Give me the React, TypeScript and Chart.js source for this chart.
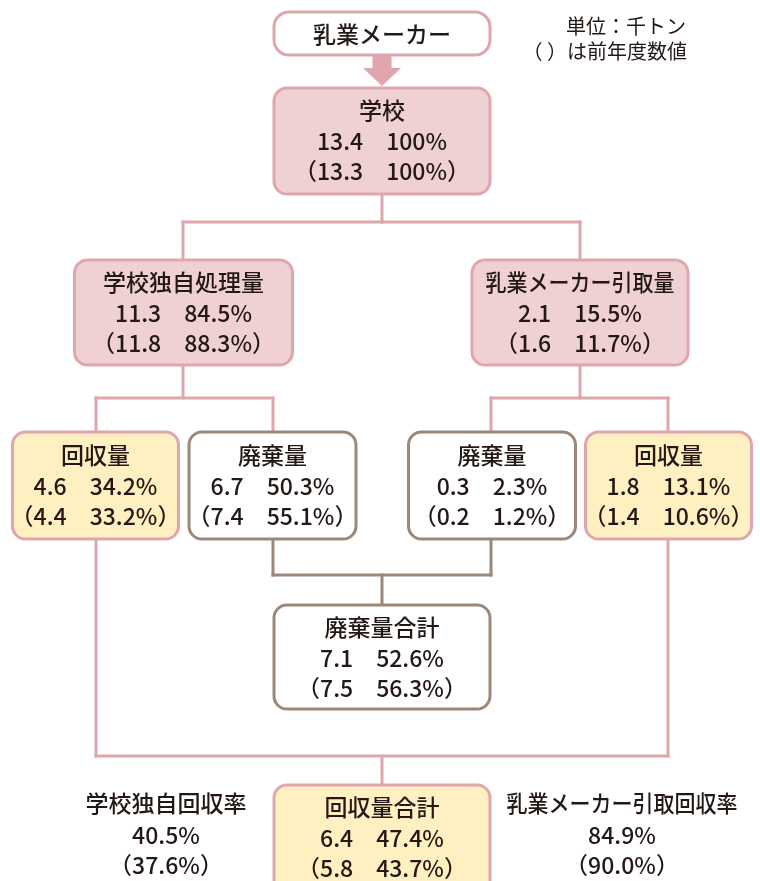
import React, { useEffect, useRef } from "react";
import { Chart, registerables } from "chart.js";

Chart.register(...registerables);

// ---- Data ----
const nodeTitles = [
  "学校",
  "学校独自処理量",
  "乳業メーカー引取量",
  "回収量",
  "廃棄量",
  "廃棄量",
  "回収量",
  "廃棄量合計",
  "回収量合計",
];
const currentAmounts = [13.4, 11.3, 2.1, 4.6, 6.7, 0.3, 1.8, 7.1, 6.4];
const currentShares = [100, 84.5, 15.5, 34.2, 50.3, 2.3, 13.1, 52.6, 47.4];
const previousAmounts = [13.3, 11.8, 1.6, 4.4, 7.4, 0.2, 1.4, 7.5, 5.8];
const previousShares = [100, 88.3, 11.7, 33.2, 55.1, 1.2, 10.6, 56.3, 43.7];

const sourceTitle = "乳業メーカー";
const unitNotes = ["単位：千トン", "（ ）は前年度数値"];

const rateLabels = ["学校独自回収率", "乳業メーカー引取回収率"];
const rateCurrent = [40.5, 84.9];
const ratePrevious = [37.6, 90.0];

// ---- Layout (chart units = pixels on a 760 x 881 linear scale) ----
const nodeLayout = [
  { cx: 382, top: 88, w: 216, h: 106, kind: "pink", titleMax: 0 },
  { cx: 183.5, top: 260, w: 218, h: 105, kind: "pink", titleMax: 0 },
  { cx: 580, top: 260, w: 216, h: 105, kind: "pink", titleMax: 189 },
  { cx: 95.5, top: 432, w: 166, h: 107, kind: "yellow", titleMax: 0 },
  { cx: 272.5, top: 432, w: 167, h: 107, kind: "white", titleMax: 0 },
  { cx: 492, top: 432, w: 167, h: 107, kind: "white", titleMax: 0 },
  { cx: 668.5, top: 432, w: 166, h: 107, kind: "yellow", titleMax: 0 },
  { cx: 382, top: 605, w: 216, h: 104, kind: "white", titleMax: 0 },
  { cx: 382, top: 785, w: 216, h: 112, kind: "yellow", titleMax: 0 },
];
const sourceLayout = { cx: 382, top: 12, w: 216, h: 43 };
const rateLayout = [
  { cx: 166, top: 803, titleMax: 0 },
  { cx: 622, top: 803, titleMax: 231 },
];

const PINK_LINE = "#dfa6ae";
const BROWN_LINE = "#9c877b";
const PINK_FILL = "#efd1d4";
const YELLOW_FILL = "#fef0c1";
const TEXT = "#231815";
const FONT = '"Noto Sans CJK JP", "Noto Sans", sans-serif';
const MAIN_FONT = `500 23px ${FONT}`;

type Seg = [number, number, number, number];
const pinkSegments: Seg[] = [
  [382, 194, 382, 222],
  [183, 222, 580, 222],
  [183, 222, 183, 260],
  [580, 222, 580, 260],
  [183, 364, 183, 398],
  [96, 398, 273, 398],
  [96, 398, 96, 432],
  [273, 398, 273, 432],
  [580, 364, 580, 398],
  [491, 398, 668, 398],
  [491, 398, 491, 432],
  [668, 398, 668, 432],
  [96, 539, 96, 756],
  [96, 756, 668, 756],
  [668, 539, 668, 756],
  [382, 756, 382, 785],
];
const brownSegments: Seg[] = [
  [273, 539, 273, 575],
  [273, 575, 491, 575],
  [491, 539, 491, 575],
  [382, 575, 382, 605],
];

const fmtAmt = (v: number) => v.toFixed(1);
const fmtPct = (v: number) => (v === 100 ? "100%" : v.toFixed(1) + "%");

function roundRect(ctx: CanvasRenderingContext2D, x: number, y: number, w: number, h: number, r: number) {
  ctx.beginPath();
  ctx.moveTo(x + r, y);
  ctx.lineTo(x + w - r, y);
  ctx.arcTo(x + w, y, x + w, y + r, r);
  ctx.lineTo(x + w, y + h - r);
  ctx.arcTo(x + w, y + h, x + w - r, y + h, r);
  ctx.lineTo(x + r, y + h);
  ctx.arcTo(x, y + h, x, y + h - r, r);
  ctx.lineTo(x, y + r);
  ctx.arcTo(x, y, x + r, y, r);
  ctx.closePath();
}

function text(ctx: CanvasRenderingContext2D, s: string, x: number, y: number, maxW: number) {
  if (maxW > 0) ctx.fillText(s, x, y, maxW);
  else ctx.fillText(s, x, y);
}

const flowPlugin = {
  id: "flow",
  afterDatasetsDraw(chart: any) {
    const ctx: CanvasRenderingContext2D = chart.ctx;
    const xs = chart.scales.x;
    const ys = chart.scales.y;
    const px = (v: number) => xs.getPixelForValue(v);
    const py = (v: number) => ys.getPixelForValue(v);
    const meta = chart.getDatasetMeta(0);

    ctx.save();
    ctx.fillStyle = "#ffffff";
    ctx.fillRect(0, 0, chart.width, chart.height);

    // connector lines
    ctx.lineWidth = 3;
    ctx.lineCap = "square";
    const drawSegs = (segs: Seg[], color: string) => {
      ctx.strokeStyle = color;
      segs.forEach(([x1, y1, x2, y2]) => {
        ctx.beginPath();
        ctx.moveTo(px(x1), py(y1));
        ctx.lineTo(px(x2), py(y2));
        ctx.stroke();
      });
    };
    drawSegs(pinkSegments, PINK_LINE);
    drawSegs(brownSegments, BROWN_LINE);

    // arrow
    ctx.fillStyle = PINK_LINE;
    ctx.beginPath();
    ctx.moveTo(px(372.5), py(55));
    ctx.lineTo(px(391.5), py(55));
    ctx.lineTo(px(391.5), py(68));
    ctx.lineTo(px(401), py(68));
    ctx.lineTo(px(382), py(86));
    ctx.lineTo(px(363), py(68));
    ctx.lineTo(px(372.5), py(68));
    ctx.closePath();
    ctx.fill();

    // source box
    {
      const L = sourceLayout;
      const x = px(L.cx - L.w / 2), y = py(L.top);
      const w = px(L.cx + L.w / 2) - x, h = py(L.top + L.h) - y;
      roundRect(ctx, x, y, w, h, 15);
      ctx.fillStyle = "#ffffff";
      ctx.fill();
      ctx.strokeStyle = PINK_LINE;
      ctx.lineWidth = 3;
      ctx.stroke();
      ctx.fillStyle = TEXT;
      ctx.font = MAIN_FONT;
      ctx.textAlign = "center";
      ctx.textBaseline = "middle";
      ctx.fillText(sourceTitle, px(L.cx), py(L.top + 22));
    }

    // nodes
    nodeLayout.forEach((L, i) => {
      const el = meta.data[i];
      const cxp = el.x;
      const x = px(L.cx - L.w / 2), y = py(L.top);
      const w = px(L.cx + L.w / 2) - x, h = py(L.top + L.h) - y;
      roundRect(ctx, x, y, w, h, 13);
      ctx.fillStyle = L.kind === "pink" ? PINK_FILL : L.kind === "yellow" ? YELLOW_FILL : "#ffffff";
      ctx.fill();
      ctx.strokeStyle = L.kind === "white" ? BROWN_LINE : PINK_LINE;
      ctx.lineWidth = 3;
      ctx.stroke();

      ctx.fillStyle = TEXT;
      ctx.font = MAIN_FONT;
      ctx.textAlign = "center";
      ctx.textBaseline = "middle";
      const off = i >= 3 && i <= 6 ? 1 : 0;
      text(ctx, nodeTitles[i], cxp, py(L.top + 22 + off), L.titleMax);
      ctx.fillText(`${fmtAmt(currentAmounts[i])}　${fmtPct(currentShares[i])}`, cxp, py(L.top + 53 + off));
      ctx.fillText(`（${fmtAmt(previousAmounts[i])}　${fmtPct(previousShares[i])}）`, cxp, py(L.top + 83 + off));
    });

    // rate labels
    rateLayout.forEach((L, i) => {
      ctx.fillStyle = TEXT;
      ctx.font = MAIN_FONT;
      ctx.textAlign = "center";
      ctx.textBaseline = "middle";
      text(ctx, rateLabels[i], px(L.cx), py(L.top), L.titleMax);
      ctx.fillText(`${rateCurrent[i].toFixed(1)}%`, px(L.cx), py(L.top + 32));
      ctx.fillText(`（${ratePrevious[i].toFixed(1)}%）`, px(L.cx), py(L.top + 62));
    });

    // unit notes
    ctx.font = `20px ${FONT}`;
    ctx.textAlign = "right";
    ctx.textBaseline = "middle";
    ctx.fillStyle = TEXT;
    ctx.fillText(unitNotes[0], px(686), py(26));
    ctx.fillText(unitNotes[1], px(687), py(51));

    ctx.restore();
  },
};

export default function App() {
  const ref = useRef<HTMLCanvasElement>(null);
  useEffect(() => {
    document.body.style.margin = "0";
    const chart = new Chart(ref.current as HTMLCanvasElement, {
      type: "scatter",
      data: {
        datasets: [
          {
            data: nodeLayout.map((b) => ({ x: b.cx, y: b.top + b.h / 2 })),
            pointRadius: 0,
            pointHoverRadius: 0,
          },
        ],
      },
      options: {
        animation: false,
        responsive: false,
        devicePixelRatio: 1,
        events: [],
        layout: { padding: 0 },
        plugins: { legend: { display: false }, tooltip: { enabled: false } },
        scales: {
          x: { type: "linear", min: 0, max: 760, display: false },
          y: { type: "linear", min: 0, max: 881, reverse: true, display: false },
        },
      },
      plugins: [flowPlugin],
    });
    return () => chart.destroy();
  }, []);
  return (
    <canvas
      ref={ref}
      width={760}
      height={881}
      style={{ display: "block", width: 760, height: 881 }}
    />
  );
}
